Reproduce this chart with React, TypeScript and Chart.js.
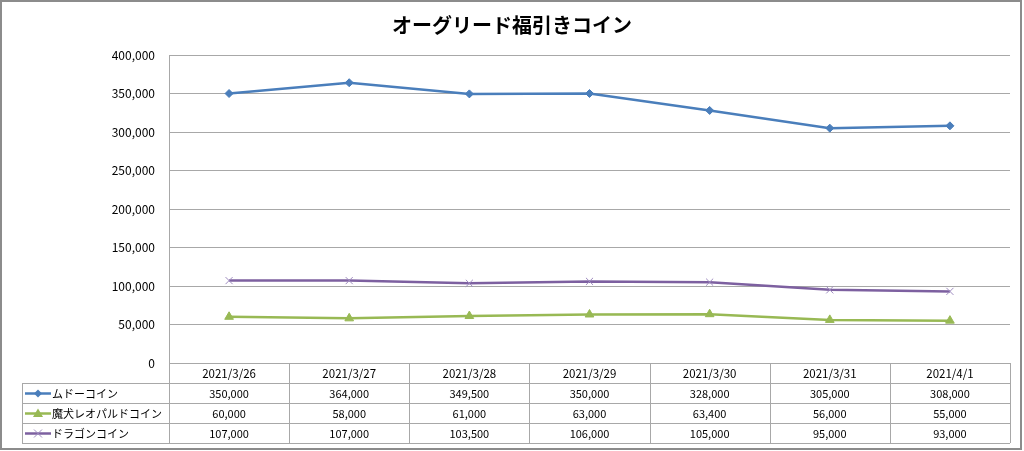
import React, { useEffect, useRef } from "react";
import { Chart, registerables } from "chart.js";

Chart.register(...registerables);

const TITLE = "オーグリード福引きコイン";
const categories = ["2021/3/26", "2021/3/27", "2021/3/28", "2021/3/29", "2021/3/30", "2021/3/31", "2021/4/1"];
const seriesNames = ["ムドーコイン", "魔犬レオパルドコイン", "ドラゴンコイン"];
const mudoValues = [350000, 364000, 349500, 350000, 328000, 305000, 308000];
const leopardValues = [60000, 58000, 61000, 63000, 63400, 56000, 55000];
const dragonValues = [107000, 107000, 103500, 106000, 105000, 95000, 93000];
const yTicks = [0, 50000, 100000, 150000, 200000, 250000, 300000, 350000, 400000];

const colors = ["#4A7EBB", "#98B954", "#7D60A0"];
const pointStyles = ["rectRot", "triangle", "crossRot"];
const FONT = "'Noto Sans CJK JP', 'Noto Sans', sans-serif";
const GRID = "#a8a8a8";

const fmt = (v: number) => v.toLocaleString("en-US");

const tablePlugin = {
  id: "excelTable",
  beforeDraw(chart: any) {
    const ctx = chart.ctx;
    ctx.save();
    ctx.fillStyle = "#ffffff";
    ctx.fillRect(0, 0, chart.width, chart.height);
    ctx.restore();
  },
  afterDraw(chart: any) {
    const ctx = chart.ctx as CanvasRenderingContext2D;
    const area = chart.chartArea;
    const n = categories.length;
    const colW = (area.right - area.left) / n;
    const top = area.bottom;
    const rowH = 20;
    const legendLeft = 22;
    const datasets = chart.data.datasets;

    ctx.save();
    // outer border
    ctx.strokeStyle = "#8c8c8c";
    ctx.lineWidth = 2;
    ctx.strokeRect(1, 1, chart.width - 4, chart.height - 3);

    // title
    ctx.fillStyle = "#000";
    ctx.font = `bold 20px ${FONT}`;
    ctx.textAlign = "center";
    ctx.textBaseline = "middle";
    ctx.fillText(TITLE, chart.width / 2, 25);

    // table lines
    ctx.strokeStyle = GRID;
    ctx.lineWidth = 1;
    ctx.beginPath();
    for (let r = 1; r <= 4; r++) {
      const y = Math.round(top + r * rowH) + 0.5;
      ctx.moveTo(legendLeft, y);
      ctx.lineTo(area.right, y);
    }
    ctx.moveTo(legendLeft + 0.5, top + rowH);
    ctx.lineTo(legendLeft + 0.5, top + 4 * rowH);
    for (let i = 0; i <= n; i++) {
      const x = Math.round(area.left + i * colW) + 0.5;
      ctx.moveTo(x, top);
      ctx.lineTo(x, top + 4 * rowH);
    }
    ctx.stroke();

    // header dates
    ctx.fillStyle = "#000";
    ctx.font = `11.5px ${FONT}`;
    ctx.textAlign = "center";
    ctx.textBaseline = "middle";
    const xs = chart.scales.x;
    categories.forEach((c, i) => {
      ctx.fillText(c, xs.getPixelForValue(i), top + rowH / 2 + 0.5);
    });

    ctx.font = `11px ${FONT}`;
    datasets.forEach((ds: any, r: number) => {
      const cy = top + rowH * (r + 1) + rowH / 2 + 0.5;
      ds.data.forEach((v: number, i: number) => {
        ctx.textAlign = "center";
        ctx.fillText(fmt(v), xs.getPixelForValue(i), cy);
      });
      // legend key
      ctx.strokeStyle = colors[r];
      ctx.lineWidth = 2.5;
      ctx.beginPath();
      ctx.moveTo(25, cy);
      ctx.lineTo(51, cy);
      ctx.stroke();
      ctx.fillStyle = colors[r];
      ctx.strokeStyle = r === 2 ? "#9f8cc0" : colors[r];
      ctx.lineWidth = 1;
      const mx = 38;
      ctx.beginPath();
      if (r === 0) {
        ctx.moveTo(mx, cy - 4);
        ctx.lineTo(mx + 4, cy);
        ctx.lineTo(mx, cy + 4);
        ctx.lineTo(mx - 4, cy);
        ctx.closePath();
        ctx.fill();
      } else if (r === 1) {
        ctx.moveTo(mx, cy - 5);
        ctx.lineTo(mx + 5, cy + 3.5);
        ctx.lineTo(mx - 5, cy + 3.5);
        ctx.closePath();
        ctx.fill();
      } else {
        ctx.moveTo(mx - 4, cy - 4);
        ctx.lineTo(mx + 4, cy + 4);
        ctx.moveTo(mx + 4, cy - 4);
        ctx.lineTo(mx - 4, cy + 4);
        ctx.stroke();
      }
      ctx.fillStyle = "#000";
      ctx.textAlign = "left";
      ctx.fillText(seriesNames[r], 52, cy);
    });
    ctx.restore();
  },
};

export default function App() {
  const ref = useRef<HTMLCanvasElement | null>(null);
  useEffect(() => {
    if (!ref.current) return;
    const series = [mudoValues, leopardValues, dragonValues];
    const chart = new Chart(ref.current, {
      type: "line",
      data: {
        labels: categories,
        datasets: series.map((vals, i) => ({
          label: seriesNames[i],
          data: vals,
          borderColor: colors[i],
          backgroundColor: colors[i],
          borderWidth: 2.5,
          pointStyle: pointStyles[i] as any,
          pointRadius: i === 0 ? 4 : 5,
          pointBorderWidth: 1,
          pointBorderColor: i === 2 ? "#9f8cc0" : colors[i],
          pointBackgroundColor: colors[i],
          tension: 0,
        })),
      },
      options: {
        responsive: false,
        animation: false,
        layout: { padding: { left: 0, right: 14, top: 55, bottom: 88 } },
        plugins: {
          legend: { display: false },
          title: { display: false },
          tooltip: { enabled: false },
        },
        scales: {
          x: {
            type: "category",
            offset: true,
            display: false,
          },
          y: {
            min: 0,
            max: 400000,
            afterFit: (s: any) => {
              s.width = 169;
            },
            afterBuildTicks: (s: any) => {
              s.ticks = yTicks.map((v) => ({ value: v }));
            },
            border: { display: true, color: GRID, width: 1 },
            grid: { color: GRID, lineWidth: 1, drawTicks: false },
            ticks: {
              padding: 14,
              color: "#000",
              font: { family: FONT, size: 12 },
              callback: (v: any) => fmt(Number(v)),
            },
          },
        },
      },
      plugins: [tablePlugin],
    });
    return () => chart.destroy();
  }, []);
  return (
    <div style={{ position: "absolute", left: 0, top: 0, width: 1024, height: 451 }}>
      <canvas ref={ref} width={1024} height={451} />
    </div>
  );
}
